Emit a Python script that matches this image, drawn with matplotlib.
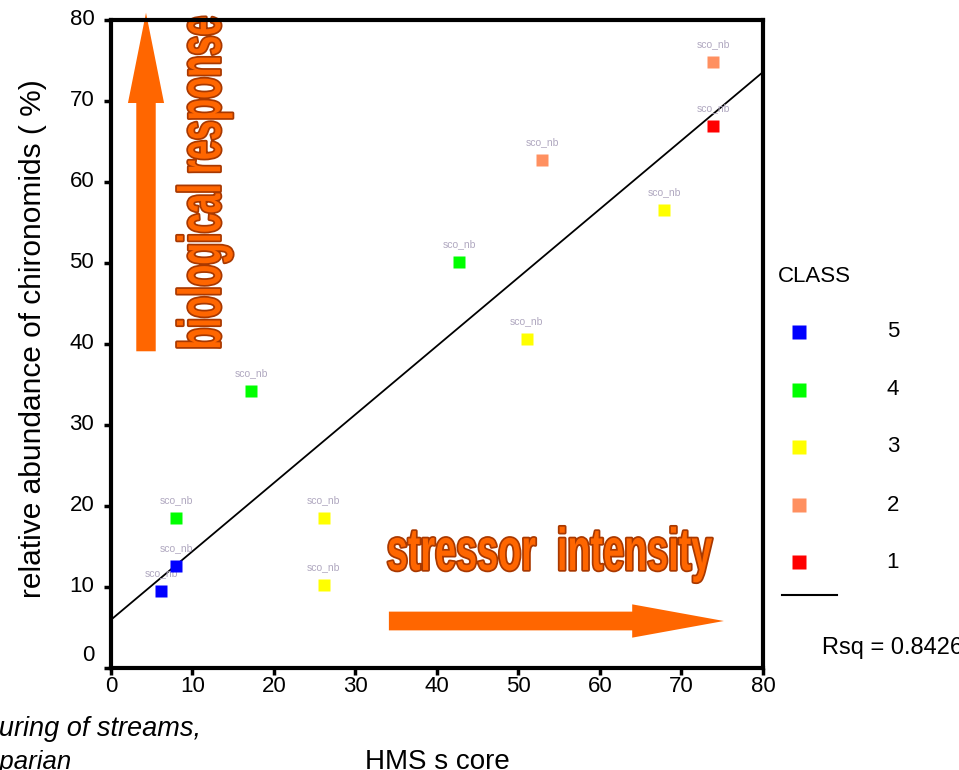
import numpy as np
import matplotlib
matplotlib.use("Agg")
import matplotlib.pyplot as plt
from matplotlib.lines import Line2D
from matplotlib.patches import FancyArrowPatch
from matplotlib.transforms import Affine2D, ScaledTranslation
import matplotlib.patheffects as pe

plt.rcParams['font.family'] = ['Liberation Sans', 'DejaVu Sans']

# data
hms_score = [6.2, 8.0, 8.0, 17.2, 42.7, 26.1, 26.1, 51.0, 67.9, 52.9, 73.9, 73.9]
chironomids = [9.5, 12.6, 18.5, 34.2, 50.1, 18.5, 10.2, 40.6, 56.5, 62.7, 74.8, 66.9]
site_class = [5, 5, 4, 4, 4, 3, 3, 3, 3, 2, 2, 1]
point_labels = ['sco_nb'] * len(hms_score)

classes = [5, 4, 3, 2, 1]
class_colors = {5: '#0000FF', 4: '#00FF00', 3: '#FFFF00', 2: '#FF9060', 1: '#FF0000'}
rsq_text = 'Rsq = 0.8426'

xticks = [0, 10, 20, 30, 40, 50, 60, 70, 80]
yticks = [0, 10, 20, 30, 40, 50, 60, 70, 80]


class SqueezeStroke(pe.AbstractPathEffect):
    """outlined text, narrowed along one axis to a target pixel length"""
    def __init__(self, target, axis, lw, fg):
        super().__init__()
        self.target = target
        self.axis = axis
        self.lw = lw
        self.fg = fg

    def draw_path(self, renderer, gc, tpath, affine, rgbFace=None):
        ext = tpath.get_extents(affine)
        cx = (ext.x0 + ext.x1) / 2
        cy = (ext.y0 + ext.y1) / 2
        goal = self.target * renderer.dpi / 100.0
        if self.axis == 'x':
            sq = Affine2D().translate(-cx, -cy).scale(goal / ext.width, 1).translate(cx, cy)
        else:
            sq = Affine2D().translate(-cx, -cy).scale(1, goal / ext.height).translate(cx, cy)
        aff = affine + sq
        gc0 = renderer.new_gc()
        gc0.copy_properties(gc)
        gc0.set_linewidth(self.lw)
        gc0.set_foreground(self.fg)
        gc0.set_joinstyle('round')
        renderer.draw_path(gc0, tpath, aff, rgbFace)
        gc0.restore()
        renderer.draw_path(gc, tpath, aff, rgbFace)


fig = plt.figure(figsize=(9.59, 7.70), dpi=100)
ax = fig.add_axes([0.1157, 0.1325, 0.6799, 0.8415])

# regression line
slope, intercept = np.polyfit(hms_score, chironomids, 1)
xs = np.array([0, 80])
ax.plot(xs, intercept + slope * xs, color='black', lw=1.3, zorder=3)

for x, y, c, lab in zip(hms_score, chironomids, site_class, point_labels):
    ax.plot(x, y, marker='s', ms=9.3, color=class_colors[c], mec='none', zorder=4)
    ax.annotate(lab, (x, y), xytext=(0, 13), textcoords='offset points',
                ha='center', va='center', fontsize=7.5, color='#b0a8c0')

ax.set_xlim(0, 80)
ax.set_ylim(0, 80)
ax.set_xticks(xticks)
ax.set_yticks(yticks)
ax.tick_params(direction='out', length=5, width=2.5, labelsize=16)
ax.tick_params(axis='x', pad=1)
ax.tick_params(axis='y', pad=7)
for s in ax.spines.values():
    s.set_linewidth(3)
for lab, v in zip(ax.get_yticklabels(), yticks):
    up = 15 if v == 0 else 3
    lab.set_transform(lab.get_transform() + ScaledTranslation(0, up / 100, fig.dpi_scale_trans))

# orange arrows
orange = '#FF6600'
va_arrow = FancyArrowPatch((4.3, 39.1), (4.3, 80.9),
                           arrowstyle='simple,head_length=65,head_width=26,tail_width=14',
                           mutation_scale=1, color=orange, lw=0, shrinkA=0, shrinkB=0,
                           clip_on=False, zorder=2)
ax.add_patch(va_arrow)
ha_arrow = FancyArrowPatch((34.1, 5.8), (75.2, 5.8),
                           arrowstyle='simple,head_length=66,head_width=24,tail_width=13.5',
                           mutation_scale=1, color=orange, lw=0, shrinkA=0, shrinkB=0,
                           clip_on=False, zorder=2)
ax.add_patch(ha_arrow)

ax.text(13.4, 59.9, 'biological response', rotation=90, rotation_mode='anchor',
        ha='center', va='baseline', fontsize=43, fontweight='bold', color=orange,
        path_effects=[SqueezeStroke(330, 'y', 2.5, '#A83800')], zorder=2)
ax.text(53.8, 12.1, 'stressor  intensity', ha='center', va='baseline',
        fontsize=43, fontweight='bold', color=orange,
        path_effects=[SqueezeStroke(324, 'x', 2.5, '#A83800')], zorder=2)

# axis labels
fig.text(33 / 959, 1 - 339 / 770, 'relative abundance of chironomids ( %)',
         rotation=90, ha='center', va='center', fontsize=21.5)
fig.text(437 / 959, 1 - 769 / 770, 'HMS s core', ha='center', va='baseline', fontsize=20)
fig.text(201 / 959, 1 - 736 / 770, 'Structuring of streams,', ha='right', va='baseline',
         fontsize=19.5, style='italic')
fig.text(72 / 959, 1 - 769 / 770, 'riparian', ha='right', va='baseline',
         fontsize=18.5, style='italic')

# legend
fig.text(778 / 959, 1 - 277 / 770, 'CLASS', ha='left', va='center', fontsize=16)
leg_y = [332, 390, 447, 505, 562]
for c, py in zip(classes, leg_y):
    fig.add_artist(Line2D([799 / 959], [1 - py / 770], marker='s', ms=10,
                          color=class_colors[c], mec='none', transform=fig.transFigure))
    fig.text(893 / 959, 1 - py / 770, str(c), ha='center', va='center', fontsize=16)
fig.add_artist(Line2D([782 / 959, 837 / 959], [1 - 595 / 770, 1 - 595 / 770],
                      color='black', lw=1.5, transform=fig.transFigure))
fig.text(822 / 959, 1 - 648 / 770, rsq_text, ha='left', va='center', fontsize=17)

fig.savefig('out.png', dpi=100)
